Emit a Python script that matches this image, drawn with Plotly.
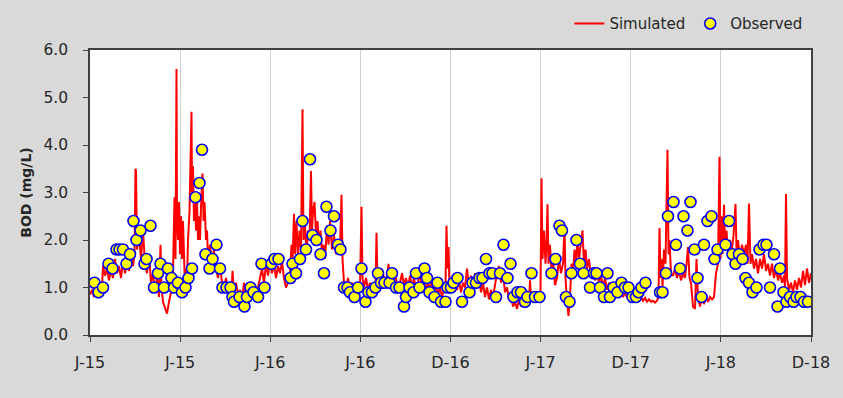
import plotly.graph_objects as go

# x values are days since 2015-01-08 (simulation start)
x_tick_days = [0, 180.25, 360.5, 540.75, 721, 901.25, 1081.5, 1261.75, 1442]
x_tick_labels = ["J-15", "J-15", "J-16", "J-16", "D-16", "J-17", "D-17", "J-18", "D-18"]

sim_day = [0, 4, 8, 12, 16, 20, 24, 26, 30, 34, 38, 42, 46, 50, 54, 58, 62, 66, 70, 74, 78, 82, 86, 89, 91, 92, 94, 98,
           102, 106, 110, 114, 118, 122, 126, 130, 134, 138, 141, 143, 146, 150, 154, 158, 162, 166, 169, 171, 173, 174,
           176, 178, 180, 182, 184, 186, 188, 190, 192, 194, 196, 199, 203, 204, 206, 208, 210, 212, 214, 216, 218, 220,
           222, 225, 227, 229, 232, 234, 236, 240, 244, 248, 252, 256, 260, 264, 268, 272, 276, 280, 283, 285, 288, 292,
           296, 300, 304, 308, 312, 316, 320, 324, 328, 332, 336, 340, 344, 348, 352, 356, 360, 364, 368, 372, 376, 380,
           384, 388, 392, 396, 400, 403, 405, 408, 410, 413, 416, 419, 422, 425, 427, 430, 433, 436, 439, 442, 444, 446,
           449, 452, 455, 458, 461, 464, 467, 470, 474, 477, 480, 484, 488, 492, 496, 500, 503, 505, 508, 512, 516, 520,
           524, 528, 532, 536, 540, 543, 545, 548, 552, 556, 560, 564, 568, 571, 573, 575, 578, 582, 586, 590, 594, 597,
           600, 604, 608, 612, 616, 620, 624, 628, 632, 636, 640, 644, 648, 652, 656, 660, 664, 668, 672, 676, 680, 684,
           688, 692, 696, 700, 704, 708, 711, 713, 715, 717, 719, 722, 726, 730, 734, 738, 742, 746, 750, 754, 758, 762,
           766, 770, 774, 778, 782, 786, 790, 794, 798, 802, 806, 810, 814, 818, 822, 826, 830, 834, 838, 842, 846, 850,
           854, 858, 862, 866, 870, 874, 878, 880, 882, 886, 890, 894, 898, 901, 903, 905, 908, 911, 913, 915, 917, 920,
           923, 926, 930, 934, 938, 942, 946, 949, 951, 954, 957, 960, 963, 966, 969, 972, 975, 978, 982, 985, 988, 991,
           994, 998, 1002, 1006, 1010, 1014, 1018, 1022, 1026, 1030, 1034, 1038, 1042, 1046, 1050, 1054, 1058, 1062,
           1066, 1070, 1074, 1078, 1082, 1086, 1090, 1094, 1098, 1102, 1106, 1110, 1114, 1118, 1122, 1126, 1130, 1134,
           1137, 1139, 1141, 1143, 1145, 1148, 1151, 1155, 1157, 1159, 1162, 1166, 1170, 1174, 1178, 1182, 1186, 1190,
           1193, 1196, 1199, 1202, 1206, 1210, 1213, 1216, 1220, 1224, 1228, 1232, 1236, 1240, 1244, 1248, 1252, 1256,
           1259, 1261, 1263, 1265, 1268, 1270, 1273, 1276, 1280, 1284, 1287, 1291, 1293, 1296, 1300, 1304, 1308, 1312,
           1315, 1318, 1321, 1324, 1328, 1332, 1336, 1340, 1344, 1348, 1352, 1356, 1360, 1364, 1368, 1372, 1376, 1380,
           1384, 1388, 1390, 1392, 1394, 1398, 1402, 1406, 1410, 1414, 1418, 1422, 1426, 1430, 1434, 1438, 1442]
sim_bod = [0.85, 0.95, 0.8, 1.0, 0.9, 1.1, 1.0, 1.45, 1.25, 1.4, 1.15, 1.35, 1.2, 1.6, 1.3, 1.45, 1.2, 1.55, 1.3, 1.5, 1.35,
           1.6, 1.45, 1.7, 3.5, 3.45, 1.8, 2.1,
           1.6, 2.2, 1.5, 1.3, 1.7, 1.1, 1.3, 0.9, 1.2, 0.8, 1.9, 1.0, 0.7, 0.55, 0.45, 0.7, 0.9, 1.3, 2.9, 1.6, 5.6, 2.5,
           2.0, 2.8, 1.7, 2.5, 1.6, 2.4, 1.3, 1.0, 1.4, 1.1, 2.0, 2.6, 4.7, 3.0, 3.55, 2.4, 3.0, 2.2, 2.8, 2.0, 2.5, 2.0,
           2.7, 3.4, 2.4, 2.8, 2.0, 2.2, 1.6, 1.9, 1.5, 1.8, 1.4, 1.2, 1.5, 1.1, 1.0, 1.2, 0.9, 1.0, 0.85, 1.35, 0.9, 1.1,
           0.85, 0.95, 0.75, 1.1, 0.8, 0.9, 0.75, 1.0, 0.8, 0.95, 1.0, 1.2, 1.4, 1.1, 1.5, 1.25, 1.55, 1.3, 1.5, 1.2, 1.45, 1.3,
           1.55, 1.2, 1.0, 1.1, 1.3, 1.9, 1.5, 2.55, 1.7, 2.4, 1.6, 2.2, 1.8, 4.75, 2.0, 2.3, 1.7, 2.2, 2.0, 3.45, 2.2, 2.6,
           2.8, 2.1, 2.4, 1.9, 2.2, 1.7, 1.9, 1.6, 2.3, 1.9, 2.4, 1.8, 2.1, 1.7, 2.0, 1.8, 2.95, 1.6, 1.1, 1.0, 1.2, 0.95,
           1.1, 0.9, 1.05, 0.95, 1.0, 2.7, 1.2, 1.0, 1.2, 0.95, 1.1, 0.9, 1.05, 0.95, 2.15, 1.1, 1.2, 1.0, 1.3, 1.1, 1.2, 1.5,
           1.1, 1.3, 1.0, 1.2, 0.9, 1.1, 1.3, 1.05, 1.2, 1.0, 1.25, 1.0, 1.2, 0.95, 1.15, 1.3, 1.0, 1.2, 0.9, 1.1, 0.95, 1.15,
           0.9, 1.05, 0.85, 1.0, 0.8, 0.95, 1.0, 2.3, 1.4, 1.85, 1.0, 1.1, 0.9, 1.05, 0.95, 1.15, 0.9, 1.1, 1.0, 1.4, 1.0, 1.25,
           1.0, 1.3, 1.05, 1.2, 0.9, 1.1, 0.8, 1.0, 0.75, 0.95, 0.8, 1.1, 1.3, 1.45, 1.1, 1.3, 0.9, 1.0, 0.75, 0.85, 0.6, 0.7,
           0.55, 0.75, 0.6, 0.85, 0.65, 0.8, 0.7, 1.15, 0.8, 0.9, 0.75, 0.85, 0.8, 0.9, 3.3, 1.6, 2.2, 1.5, 1.9, 2.75, 1.5, 1.9,
           1.3, 1.6, 1.05, 1.2, 1.6, 1.3, 1.5, 2.3, 1.2, 0.7, 0.4, 0.8, 1.5, 1.3, 1.8, 1.5, 2.0, 1.6, 1.9, 2.2, 1.5, 1.8,
           1.4, 1.6, 1.2, 1.4, 1.15, 1.3, 1.1, 1.25, 1.0, 1.2, 0.95, 1.1, 0.9, 1.05, 0.85, 1.0, 0.85, 0.95,
           0.8, 0.9, 0.8, 0.85, 0.75, 0.85, 0.75, 0.8, 0.72, 0.8, 0.72, 0.78, 0.7, 0.75, 0.7, 0.72, 0.68, 0.72,
           0.8, 2.25, 1.2, 1.6, 1.0, 1.8, 1.5, 3.9, 1.7, 2.0, 1.3, 1.25, 1.4, 1.2, 1.35, 1.15, 1.3, 1.2,
           1.5, 1.85, 1.2, 1.1, 0.6, 0.55, 1.6, 0.8, 0.6, 0.85, 0.65, 0.8, 0.7, 0.8, 0.75, 0.8, 1.3, 1.5,
           3.75, 1.6, 2.5, 1.7, 2.74, 1.9, 2.2, 1.7, 2.0, 1.8, 2.1, 2.76, 1.8, 2.0, 1.6, 1.9, 1.7, 1.9,
           1.5, 2.77, 1.5, 1.7, 1.4, 1.6, 1.3, 1.6, 1.4, 1.7, 1.35, 1.5, 1.25, 1.5, 1.2, 1.4, 1.15, 1.3,
           1.1, 1.25, 1.0, 2.97, 1.2, 0.95, 1.1, 0.9, 1.15, 0.95, 1.2, 1.0, 1.35, 1.05, 1.4, 1.1, 1.3]

obs_day = [9, 17, 26, 37, 45, 53, 59, 66, 73, 80, 87, 93, 101, 109, 113, 121, 128, 136, 141, 148, 156, 163, 168, 176,
           184, 191, 197, 204, 211, 219, 224, 231, 239, 245, 253, 260, 265, 273, 281, 285, 288, 299, 309, 314, 321, 327,
           336, 343, 349, 363, 369, 377, 401, 405, 412, 420, 425, 432, 440, 445, 453, 461, 468, 473, 481, 488, 496, 501,
           508, 515, 520, 529, 536, 543, 551, 557, 564, 571, 576, 582, 589, 599, 604, 612, 619, 628, 632, 639, 647, 652,
           659, 669, 674, 679, 689, 695, 702, 711, 715, 722, 727, 735, 744, 759, 765, 772, 779, 785, 792, 799, 805, 812,
           820, 827, 835, 841, 847, 855, 862, 870, 875, 883, 890, 899, 923, 931, 939, 944, 952, 959, 963, 973, 980, 987,
           1000, 1008, 1013, 1020, 1028, 1035, 1040, 1047, 1055, 1063, 1070, 1077, 1085, 1092, 1097, 1103, 1111, 1140,
           1145, 1152, 1156, 1167, 1172, 1180, 1187, 1195, 1201, 1209, 1215, 1223, 1228, 1235, 1243, 1249, 1255, 1271,
           1278, 1285, 1291, 1298, 1305, 1311, 1318, 1325, 1333, 1339, 1347, 1353, 1360, 1368, 1375, 1380, 1387, 1393,
           1400, 1407, 1413, 1421, 1428, 1436]
obs_bod = [1.1, 0.9, 1.0, 1.5, 1.4, 1.8, 1.8, 1.8, 1.5, 1.7, 2.4, 2.0, 2.2, 1.5, 1.6, 2.3, 1.0, 1.3, 1.5, 1.0, 1.4, 1.2,
           1.0, 1.1, 0.9, 1.0, 1.2, 1.4, 2.9, 3.2, 3.9, 1.7, 1.4, 1.6, 1.9, 1.4, 1.0, 1.0, 1.0, 0.8, 0.7, 0.8, 0.6, 0.8,
           1.0, 0.9, 0.8, 1.5, 1.0, 1.5, 1.6, 1.6, 1.2, 1.5, 1.3, 1.6, 2.4, 1.8, 3.7, 2.1, 2.0, 1.7, 1.3, 2.7, 2.2, 2.5,
           1.9, 1.8, 1.0, 1.0, 0.9, 0.8, 1.0, 1.4, 0.7, 0.9, 0.9, 1.0, 1.3, 1.1, 1.1, 1.1, 1.3, 1.0, 1.0, 0.6, 0.8, 1.0,
           0.9, 1.3, 1.0, 1.4, 1.2, 0.9, 0.8, 1.1, 0.7, 0.7, 1.0, 1.0, 1.1, 1.2, 0.7, 0.9, 1.1, 1.1, 1.2, 1.2, 1.6, 1.3,
           1.3, 0.8, 1.3, 1.9, 1.2, 1.5, 0.8, 0.9, 0.9, 0.7, 0.8, 1.3, 0.8, 0.8, 1.3, 1.6, 2.3, 2.2, 0.8, 0.7, 1.3, 2.0,
           1.5, 1.3, 1.0, 1.3, 1.3, 1.0, 0.8, 1.3, 0.8, 1.0, 0.9, 1.1, 1.0, 1.0, 0.8, 0.8, 0.9, 1.0, 1.1, 0.9, 0.9, 1.3,
           2.5, 2.8, 1.9, 1.4, 2.5, 2.2, 2.8, 1.8, 1.2, 0.8, 1.9, 2.4, 2.5, 1.6, 1.8, 1.9, 2.4, 1.7, 1.5, 1.7, 1.6, 1.2,
           1.1, 0.9, 1.0, 1.8, 1.9, 1.9, 1.0, 1.7, 0.6, 1.4, 0.9, 0.7, 0.8, 0.7, 0.8, 0.8, 0.7, 0.7]

y_ticks = [0, 1, 2, 3, 4, 5, 6]

FONT = "DejaVu Sans, Noto Sans, sans-serif"
AXIS_COLOR = "#404040"
TEXT_COLOR = "#262626"

fig = go.Figure()
fig.add_trace(go.Scatter(
    x=sim_day, y=sim_bod, mode="lines", name="Simulated",
    line=dict(color="#ff0000", width=2),
))
fig.add_trace(go.Scatter(
    x=obs_day, y=obs_bod, mode="markers", name="Observed",
    marker=dict(symbol="circle", size=11, color="#ffff00",
                line=dict(color="#0000ff", width=1.6)),
))

fig.update_layout(
    width=843, height=398,
    margin=dict(l=90, r=32, t=50, b=63, autoexpand=False),
    paper_bgcolor="#d9d9d9",
    plot_bgcolor="#ffffff",
    font=dict(family=FONT, size=14, color=TEXT_COLOR),
    showlegend=True,
    legend=dict(
        orientation="h", x=0.995, xanchor="right", y=1.15, yanchor="top",
        bgcolor="rgba(0,0,0,0)", font=dict(size=15, color=TEXT_COLOR),
        itemwidth=30, traceorder="normal",
    ),
    xaxis=dict(
        range=[0, 1442], tickmode="array", tickvals=x_tick_days, ticktext=x_tick_labels,
        showgrid=True, gridcolor="#d0d0d0", gridwidth=1,
        showline=True, linecolor=AXIS_COLOR, linewidth=1.5, mirror=True,
        ticks="outside", ticklen=5, tickcolor=AXIS_COLOR, tickwidth=1,
        tickfont=dict(size=16, color=TEXT_COLOR), ticklabelstandoff=7,
        zeroline=False,
    ),
    yaxis=dict(
        range=[0, 6], tickmode="array", tickvals=y_ticks, tickformat=".1f",
        showgrid=False, zeroline=False,
        showline=True, linecolor=AXIS_COLOR, linewidth=1.5, mirror=True,
        ticks="outside", ticklen=5, tickcolor=AXIS_COLOR, tickwidth=1,
        tickfont=dict(size=15.5, color=TEXT_COLOR), ticklabelstandoff=12,
        title=dict(text="<b>BOD (mg/L)</b>", font=dict(size=14, color=TEXT_COLOR), standoff=9),
    ),
)

fig.write_html("out.html", config={"displayModeBar": False},
               post_script="document.body.style.margin='0';")
